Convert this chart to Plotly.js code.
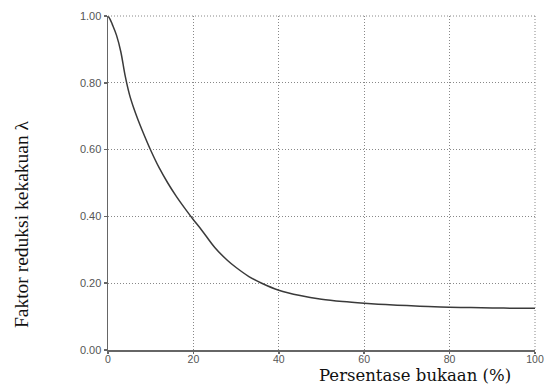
<!DOCTYPE html>
<html>
<head>
<meta charset="utf-8">
<script src="https://cdn.plot.ly/plotly-3.0.1.min.js"></script>
<style>html,body{margin:0;padding:0;background:#fff;}#chart{width:546px;height:386px;}</style>
</head>
<body>
<div id="chart"></div>
<script>
const opening = [0, 0.5, 1, 2, 3, 4, 5, 6, 7, 8, 10, 12, 14, 16, 18, 20, 22, 25, 28, 30, 33, 36, 40, 45, 50, 55, 60, 65, 70, 75, 80, 85, 90, 95, 100];
const lambda = [1.00, 0.99, 0.975, 0.942, 0.893, 0.822, 0.766, 0.725, 0.69, 0.658, 0.598, 0.545, 0.50, 0.46, 0.424, 0.39, 0.358, 0.307, 0.268, 0.247, 0.22, 0.20, 0.179, 0.163, 0.152, 0.145, 0.140, 0.136, 0.133, 0.130, 0.128, 0.127, 0.126, 0.125, 0.125];
const xTicks = [0, 20, 40, 60, 80, 100];
const yTicks = [0, 0.2, 0.4, 0.6, 0.8, 1.0];
const yTickText = ['0.00', '0.20', '0.40', '0.60', '0.80', '1.00'];
const xTitle = 'Persentase bukaan (%)';
const yTitle = 'Faktor reduksi kekakuan λ';

const tickFont = {family: 'Liberation Sans, Arial, sans-serif', size: 11, color: '#555'};
const xTickFont = {family: 'Liberation Sans, Arial, sans-serif', size: 10.5, color: '#555'};
const gridDash = '1px,2px';

Plotly.newPlot('chart', [{
  x: opening, y: lambda, type: 'scatter', mode: 'lines',
  line: {color: '#3a3a3a', width: 1.5, shape: 'spline', smoothing: 1},
  hoverinfo: 'skip'
}], {
  width: 546, height: 386,
  margin: {l: 108, r: 11, t: 16, b: 36},
  paper_bgcolor: '#fff', plot_bgcolor: '#fff',
  showlegend: false,
  xaxis: {
    range: [0, 100], tickvals: xTicks, ticktext: xTicks.map(String),
    showgrid: true, gridcolor: '#888', griddash: gridDash, gridwidth: 1,
    showline: true, linecolor: '#666', linewidth: 1.5, mirror: false,
    ticks: 'outside', ticklen: 2, tickcolor: '#666', tickwidth: 1.5,
    ticklabelstandoff: -3,
    tickfont: xTickFont, zeroline: false, fixedrange: true
  },
  yaxis: {
    range: [0, 1], tickvals: yTicks, ticktext: yTickText,
    showgrid: true, gridcolor: '#888', griddash: gridDash, gridwidth: 1,
    showline: true, linecolor: '#666', linewidth: 1.5,
    ticks: 'outside', ticklen: 3, tickcolor: '#666', tickwidth: 1.5,
    tickfont: tickFont, zeroline: false, fixedrange: true
  },
  shapes: [
    {type: 'line', xref: 'paper', yref: 'paper', x0: 0, x1: 1, y0: 1, y1: 1, line: {color: '#888', width: 1, dash: gridDash}},
    {type: 'line', xref: 'paper', yref: 'paper', x0: 1, x1: 1, y0: 0, y1: 1, line: {color: '#888', width: 1, dash: gridDash}}
  ],
  annotations: [
    {text: xTitle, xref: 'paper', yref: 'paper', x: 0.718, y: 0, xanchor: 'center', yanchor: 'top', yshift: -15, borderpad: 0, showarrow: false,
     font: {family: 'DejaVu Serif, serif', size: 16.5, color: '#111'}},
    {text: yTitle, xref: 'paper', yref: 'paper', x: 0, xshift: -87, y: 0.377, xanchor: 'center', yanchor: 'middle', textangle: -90, showarrow: false,
     font: {family: 'Liberation Serif, Times New Roman, serif', size: 19.5, color: '#111'}}
  ]
}, {displayModeBar: false, staticPlot: true});
</script>
</body>
</html>
